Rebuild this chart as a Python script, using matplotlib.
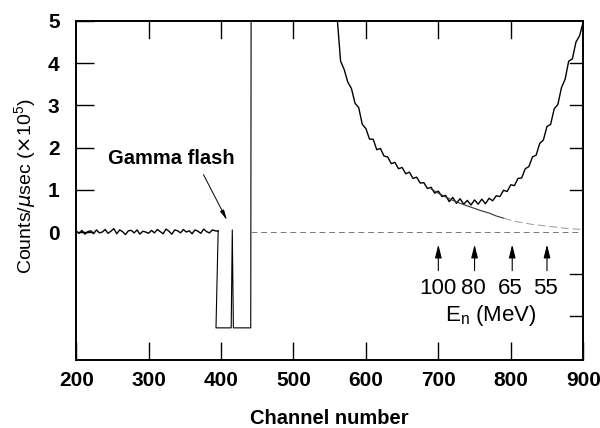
"""
Neutron time-of-flight spectrum: counts vs channel number with gamma flash.
"""
import numpy as np
import matplotlib
matplotlib.use("Agg")
import matplotlib.pyplot as plt

plt.rcParams["font.family"] = ["Liberation Sans", "DejaVu Sans"]

# baseline before the gamma flash (channels 200..396, step 4)
base_ch = np.arange(200, 397, 4)
base_y = [0.02, -0.03, 0.04, -0.05, 0.01, 0.03, -0.04, 0.05, -0.02, 0.00,
          0.06, -0.03, 0.02, 0.08, -0.04, 0.05, 0.01, -0.06, 0.03, 0.04,
          -0.02, 0.05, -0.05, 0.02, 0.00, -0.03, 0.04, -0.02, 0.06, 0.01,
          -0.04, 0.07, 0.02, -0.05, 0.05, 0.03, -0.02, 0.06, 0.00, 0.03,
          -0.04, 0.05, 0.02, -0.03, 0.07, 0.01, -0.02, 0.05, 0.03, 0.02]

# saturated region around the gamma flash
flash_ch = [396, 393, 414, 415.5, 417, 441, 441.5]
flash_y = [0.03, -2.27, -2.27, 0.05, -2.27, -2.27, 5.3]

# neutron spectrum (channels 560..900, step 5)
spec_ch = np.arange(560, 901, 5)
spec_y = [5.15, 4.05, 3.85, 3.55, 3.40, 3.05, 2.95, 2.55, 2.45, 2.20,
          2.20, 1.95, 1.98, 1.80, 1.78, 1.62, 1.65, 1.50, 1.53, 1.38,
          1.42, 1.27, 1.30, 1.16, 1.17, 1.03, 1.06, 0.92, 0.97, 0.84,
          0.87, 0.72, 0.82, 0.68, 0.79, 0.66, 0.75, 0.64, 0.76, 0.66,
          0.78, 0.67, 0.80, 0.74, 0.86, 0.84, 0.99, 0.96, 1.12, 1.10,
          1.27, 1.28, 1.50, 1.55, 1.78, 1.82, 2.10, 2.18, 2.50, 2.55,
          2.92, 3.02, 3.42, 3.62, 4.05, 4.10, 4.50, 4.65, 4.98]

# smooth background fit under the minimum
fit_ch = np.arange(690, 901, 10)
fit_y = [1.02, 0.92, 0.83, 0.75, 0.68, 0.62, 0.56, 0.50, 0.45, 0.38, 0.33,
         0.28, 0.24, 0.21, 0.18, 0.16, 0.14, 0.12, 0.10, 0.08, 0.07, 0.06]

# energy markers (arrow channel, label channel, label)
arrow_ch = [700, 750, 802, 850]
label_ch = [700, 748, 799, 848]
arrow_lbl = ["100", "80", "65", "55"]

fig = plt.figure(figsize=(6.0, 4.28), dpi=100)
ax = fig.add_axes([0.127, 0.159, 0.845, 0.792])

ax.plot(base_ch, base_y, color="black", lw=1.0)
ax.plot(flash_ch, flash_y, color="black", lw=0.8)
ax.plot(spec_ch, spec_y, color="black", lw=1.0)
ax.plot(fit_ch[:11], fit_y[:11], color="#333333", lw=0.8)
ax.plot(fit_ch[10:], fit_y[10:], color="#999999", lw=0.7, ls=(0, (8, 4)))
ax.plot([442, 900], [0, 0], color="#777777", lw=0.7, ls=(0, (6, 4)))

for ch in arrow_ch:
    ax.annotate("", xy=(ch, -0.23), xytext=(ch, -0.98),
                arrowprops=dict(arrowstyle="-|>,head_width=0.2,head_length=0.8",
                                color="black", lw=0.8))
for ch, lbl in zip(label_ch, arrow_lbl):
    ax.text(ch, -1.33, lbl, ha="center", va="center", fontsize=16)
ax.text(772, -1.97, r"E$_\mathregular{n}$ (MeV)", ha="center", va="center",
        fontsize=16)

ax.text(331, 1.75, "Gamma flash", ha="center", va="center", fontsize=14.5,
        fontweight="bold")
ax.annotate("", xy=(410, 0.22), xytext=(374, 1.42),
            arrowprops=dict(arrowstyle="-|>,head_width=0.12,head_length=0.6",
                            color="black", lw=0.7))

ax.set_xlim(200, 900)
ax.set_ylim(-3.03, 5)
ax.set_xticks([200, 300, 400, 500, 600, 700, 800, 900])
ax.set_yticks([0, 1, 2, 3, 4, 5])
ax.tick_params(axis="both", direction="in", labelsize=15, width=1.0,
               length=13, pad=8)
ax.tick_params(axis="y", pad=12)
for lab in ax.get_xticklabels() + ax.get_yticklabels():
    lab.set_fontweight("bold")

# extra inner ticks on the top and right sides
for x in [300, 400, 500, 600, 700, 800]:
    ax.plot([x, x], [5, 4.6], color="black", lw=1.0)
for y in [4, 3, 2, 1, -1, -2]:
    ax.plot([900, 882], [y, y], color="black", lw=1.0)

for s in ax.spines.values():
    s.set_linewidth(1.4)

ax.set_xlabel("Channel number", fontsize=14.5, fontweight="bold")
ax.xaxis.set_label_coords(0.50, -0.145)
ax.xaxis.label.set_va("top")
ax.set_ylabel(r"Counts/$\mu$sec ($\times$10$^\mathregular{5}$)", fontsize=14)
ax.yaxis.set_label_coords(-0.10, 0.513)
ax.yaxis.label.set_va("center")

fig.savefig("out.png", dpi=100)
